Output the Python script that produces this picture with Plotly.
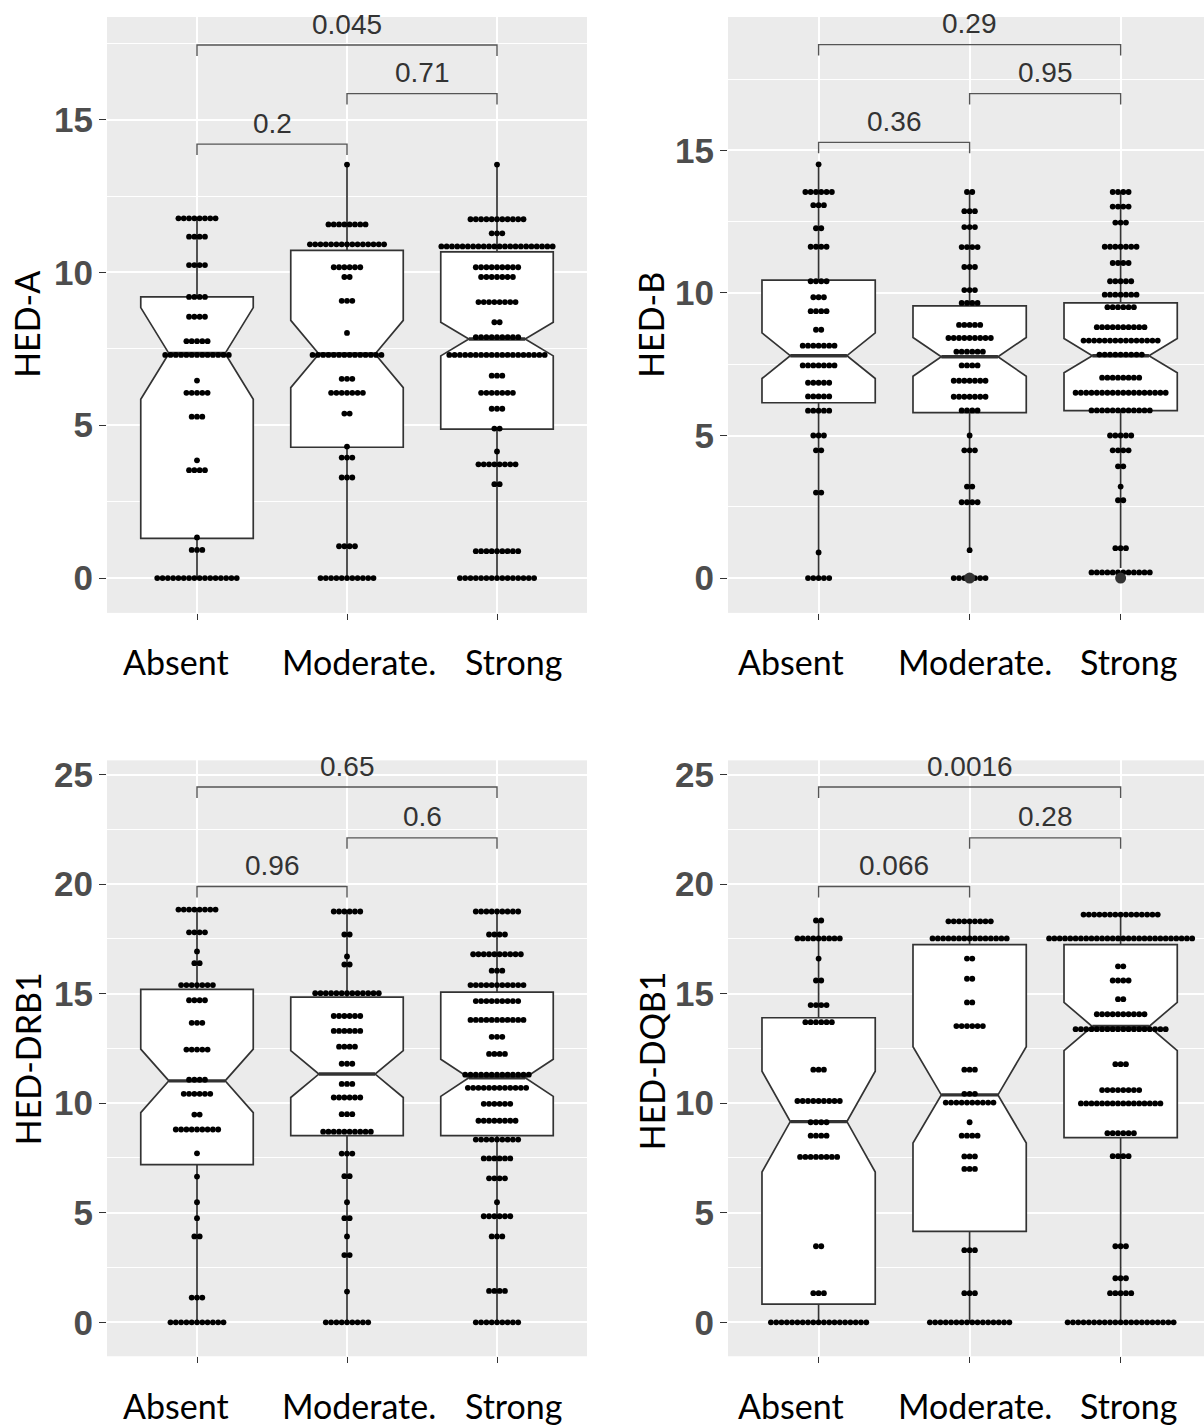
import plotly.graph_objects as go

# ---------------- data ----------------
categories = ["Absent", "Moderate.", "Strong"]

# HED-A dot levels / counts
a_absent_vals = [11.77, 11.17, 10.24, 9.2, 8.55, 7.75, 7.3, 6.46, 6.06, 5.28, 3.85, 3.53, 1.33, 0.92, 0]
a_absent_cnt = [8, 4, 4, 4, 4, 5, 13, 1, 5, 3, 1, 4, 1, 3, 16]
a_moderate_vals = [13.53, 11.57, 10.92, 10.17, 9.85, 9.07, 8.02, 7.3, 6.52, 6.06, 5.38, 4.3, 3.94, 3.29, 1.04, 0]
a_moderate_cnt = [1, 8, 15, 6, 2, 3, 1, 14, 3, 7, 2, 1, 3, 3, 4, 11]
a_strong_vals = [13.53, 11.74, 11.28, 10.85, 10.17, 9.85, 9.03, 8.37, 7.88, 7.3, 6.62, 6.06, 5.54, 4.89, 4.14, 3.72, 3.07, 0.88, 0]
a_strong_cnt = [1, 11, 3, 22, 9, 7, 8, 2, 9, 19, 3, 7, 3, 2, 1, 8, 2, 9, 15]

# HED-B
b_absent_vals = [14.51, 13.54, 13.08, 12.27, 11.62, 10.41, 9.85, 9.36, 8.71, 8.15, 7.46, 6.85, 6.37, 5.87, 5.0, 4.48, 3.0, 0.9, 0]
b_absent_cnt = [1, 6, 3, 2, 4, 4, 3, 4, 2, 7, 7, 5, 5, 5, 3, 2, 2, 1, 5]
b_moderate_vals = [13.54, 12.87, 12.31, 11.61, 10.91, 10.1, 9.65, 8.88, 8.42, 7.94, 7.46, 6.92, 6.36, 5.88, 5.0, 4.48, 3.21, 2.66, 0.98, 0]
b_moderate_cnt = [2, 3, 3, 4, 3, 3, 4, 5, 9, 6, 4, 7, 7, 4, 1, 3, 2, 4, 1, 7]
b_strong_vals = [13.54, 13.03, 12.47, 11.62, 11.05, 10.41, 9.94, 9.5, 8.8, 8.33, 7.84, 7.03, 6.5, 5.88, 5.0, 4.48, 3.92, 3.21, 2.73, 1.05, 0.2]
b_strong_cnt = [4, 4, 3, 7, 4, 5, 7, 6, 10, 15, 9, 8, 18, 12, 5, 4, 2, 1, 2, 3, 12]

# HED-DRB1
c_absent_vals = [18.84, 17.8, 16.93, 16.39, 15.39, 14.7, 13.67, 12.45, 11.07, 10.43, 9.48, 8.8, 7.71, 6.65, 5.48, 4.75, 3.92, 1.13, 0]
c_absent_cnt = [8, 4, 1, 2, 7, 4, 3, 5, 4, 6, 2, 9, 1, 1, 1, 1, 2, 3, 11]
c_moderate_vals = [18.75, 17.7, 16.7, 16.33, 15.02, 13.98, 13.3, 12.58, 11.8, 10.88, 10.26, 9.5, 8.7, 7.7, 6.67, 5.48, 4.75, 3.92, 3.07, 1.4, 0]
c_moderate_cnt = [6, 2, 1, 2, 13, 6, 6, 4, 3, 3, 6, 3, 10, 3, 2, 1, 2, 1, 2, 1, 9]
c_strong_vals = [18.75, 17.7, 16.8, 16.05, 15.39, 14.66, 13.8, 13.03, 12.25, 11.3, 10.7, 9.97, 9.2, 8.34, 7.48, 6.57, 5.48, 4.84, 3.92, 1.43, 0]
c_strong_cnt = [9, 4, 10, 3, 11, 9, 11, 3, 4, 13, 12, 6, 8, 9, 6, 4, 1, 6, 3, 4, 9]

# HED-DQB1
d_absent_vals = [18.34, 17.52, 16.6, 15.6, 14.48, 13.7, 11.53, 10.1, 9.13, 8.52, 7.55, 3.47, 1.33, 0]
d_absent_cnt = [2, 9, 1, 2, 4, 6, 3, 9, 4, 4, 8, 2, 3, 19]
d_moderate_vals = [18.3, 17.52, 16.6, 15.68, 14.6, 13.52, 11.53, 10.43, 10.03, 9.13, 8.52, 7.57, 7.0, 3.29, 1.33, 0]
d_moderate_cnt = [9, 15, 2, 2, 2, 6, 3, 3, 10, 1, 4, 3, 3, 3, 3, 16]
d_strong_vals = [18.61, 17.52, 16.25, 15.6, 14.75, 14.06, 13.38, 11.78, 10.6, 9.99, 8.63, 7.58, 3.47, 2.01, 1.33, 0]
d_strong_cnt = [15, 28, 2, 4, 2, 10, 18, 3, 8, 16, 6, 4, 3, 3, 5, 21]

# box statistics (Absent, Moderate., Strong)
a_q1 = [1.3, 4.28, 4.87]; a_med = [7.35, 7.33, 7.82]; a_q3 = [9.2, 10.72, 10.67]
a_lo = [0, 0, 0]; a_hi = [11.77, 13.53, 13.53]; a_notch = [1.5, 1.1, 0.55]
b_q1 = [6.15, 5.8, 5.87]; b_med = [7.8, 7.76, 7.8]; b_q3 = [10.45, 9.55, 9.65]
b_lo = [0, 0.98, 0.35]; b_hi = [14.51, 13.54, 13.54]; b_notch = [0.8, 0.68, 0.6]
c_q1 = [7.2, 8.52, 8.52]; c_med = [11.02, 11.33, 11.16]; c_q3 = [15.2, 14.84, 15.07]
c_lo = [0, 0, 0]; c_hi = [18.84, 18.75, 18.75]; c_notch = [1.45, 1.07, 0.85]
d_q1 = [0.83, 4.15, 8.43]; d_med = [9.16, 10.38, 13.5]; d_q3 = [13.9, 17.24, 17.24]
d_lo = [0, 0, 0]; d_hi = [18.34, 18.3, 18.61]; d_notch = [2.3, 2.2, 1.1]

# outliers (group index, value)
b_outlier_groups = [1, 2]
b_outlier_vals = [0, 0]

# p-values: (Absent vs Moderate., Moderate. vs Strong, Absent vs Strong)
a_pvals = ["0.2", "0.71", "0.045"]
b_pvals = ["0.36", "0.95", "0.29"]
c_pvals = ["0.96", "0.6", "0.65"]
d_pvals = ["0.066", "0.28", "0.0016"]

y_titles = ["HED-A", "HED-B", "HED-DRB1", "HED-DQB1"]
a_ticks = [0, 5, 10, 15]
c_ticks = [0, 5, 10, 15, 20, 25]

# ---------------- layout config ----------------
W, H = 1204, 1426
panels = [
    dict(title=y_titles[0], xd=(107, 587), yd=(12, 610), xr=(-0.6, 2.6), yr=(-1.14, 18.36),
         ticks=a_ticks, groups=[(a_absent_vals, a_absent_cnt), (a_moderate_vals, a_moderate_cnt), (a_strong_vals, a_strong_cnt)],
         box=(a_q1, a_med, a_q3, a_lo, a_hi, a_notch), pv=a_pvals, br=[14.2, 15.85, 17.44],
         outg=[], outv=[], tx=27, ty=321, lab_y=659, lab_dx=[-0.137, 1.083, 2.113]),
    dict(title=y_titles[1], xd=(728, 1204), yd=(12, 610), xr=(-0.6, 2.552), yr=(-1.22, 19.68),
         ticks=a_ticks, groups=[(b_absent_vals, b_absent_cnt), (b_moderate_vals, b_moderate_cnt), (b_strong_vals, b_strong_cnt)],
         box=(b_q1, b_med, b_q3, b_lo, b_hi, b_notch), pv=b_pvals, br=[15.28, 16.99, 18.71],
         outg=b_outlier_groups, outv=b_outlier_vals, tx=651, ty=321, lab_y=659, lab_dx=[-0.185, 1.033, 2.05]),
    dict(title=y_titles[2], xd=(107, 587), yd=(758, 1356), xr=(-0.6, 2.6), yr=(-1.55, 25.65),
         ticks=c_ticks, groups=[(c_absent_vals, c_absent_cnt), (c_moderate_vals, c_moderate_cnt), (c_strong_vals, c_strong_cnt)],
         box=(c_q1, c_med, c_q3, c_lo, c_hi, c_notch), pv=c_pvals, br=[19.89, 22.11, 24.43],
         outg=[], outv=[], tx=27, ty=1058, lab_y=1405, lab_dx=[-0.137, 1.083, 2.113]),
    dict(title=y_titles[3], xd=(728, 1204), yd=(758, 1356), xr=(-0.6, 2.552), yr=(-1.55, 25.65),
         ticks=c_ticks, groups=[(d_absent_vals, d_absent_cnt), (d_moderate_vals, d_moderate_cnt), (d_strong_vals, d_strong_cnt)],
         box=(d_q1, d_med, d_q3, d_lo, d_hi, d_notch), pv=d_pvals, br=[19.89, 22.11, 24.43],
         outg=[], outv=[], tx=651, ty=1060, lab_y=1405, lab_dx=[-0.185, 1.033, 2.05]),
]

DOT_PX = 5.3
LEG_PX = 11
BOX_W = 0.75
LINE_C = "#333333"

fig = go.Figure()
annotations = []
layout_axes = {}

for k, p in enumerate(panels):
    n = "" if k == 0 else str(k + 1)
    xa, ya = "x" + n, "y" + n
    px_per_x = (p["xd"][1] - p["xd"][0]) / (p["xr"][1] - p["xr"][0])
    px_per_y = (p["yd"][1] - p["yd"][0]) / (p["yr"][1] - p["yr"][0])
    pos = list(range(len(categories)))
    q1, med, q3, lo, hi, notch = p["box"]

    fig.add_trace(go.Box(
        x=pos, q1=q1, median=med, q3=q3, lowerfence=lo, upperfence=hi, notchspan=notch,
        notched=True, notchwidth=0.25, width=BOX_W, whiskerwidth=0, boxpoints=False,
        fillcolor="white", line=dict(color=LINE_C, width=1.7),
        xaxis=xa, yaxis=ya, showlegend=False, hoverinfo="skip"))

    # thick median lines
    mx, my = [], []
    for i in pos:
        mx += [i - BOX_W / 4, i + BOX_W / 4, None]
        my += [med[i], med[i], None]
    fig.add_trace(go.Scatter(x=mx, y=my, mode="lines", line=dict(color=LINE_C, width=3.4),
                             xaxis=xa, yaxis=ya, showlegend=False, hoverinfo="skip"))

    # dot plot
    sp = DOT_PX / px_per_x
    dx, dy = [], []
    for i, (vals, cnts) in enumerate(p["groups"]):
        for v, c in zip(vals, cnts):
            for j in range(c):
                dx.append(i + (j - (c - 1) / 2) * sp)
                dy.append(v)
    fig.add_trace(go.Scatter(x=dx, y=dy, mode="markers",
                             marker=dict(color="black", size=5.8, line=dict(width=0)),
                             xaxis=xa, yaxis=ya, showlegend=False, hoverinfo="skip"))

    # outliers
    if p["outg"]:
        fig.add_trace(go.Scatter(x=p["outg"], y=p["outv"], mode="markers",
                                 marker=dict(color="#333333", size=11, line=dict(width=0)),
                                 xaxis=xa, yaxis=ya, showlegend=False, hoverinfo="skip"))

    # brackets
    pairs = [(0, 1), (1, 2), (0, 2)]
    leg = LEG_PX / px_per_y
    bx, by = [], []
    for (a, b), h, lab in zip(pairs, p["br"], p["pv"]):
        bx += [a, a, b, b, None]
        by += [h - leg, h, h, h - leg, None]
        annotations.append(dict(x=(a + b) / 2, y=h, xref=xa, yref=ya, text=lab, showarrow=False,
                                yanchor="middle", yshift=21,
                                font=dict(family="Liberation Sans, Arial", size=28, color="#333333")))
    fig.add_trace(go.Scatter(x=bx, y=by, mode="lines", line=dict(color="#555555", width=1.4),
                             xaxis=xa, yaxis=ya, showlegend=False, hoverinfo="skip"))

    # category labels
    for i, lab in enumerate(categories):
        annotations.append(dict(x=p["lab_dx"][i], y=1 - p["lab_y"] / H, xref=xa, yref="paper",
                                text=lab, showarrow=False, yanchor="middle",
                                font=dict(family="Lato", size=34, color="black")))
    # y title
    annotations.append(dict(x=p["tx"] / W, y=1 - p["ty"] / H, xref="paper", yref="paper",
                            text=p["title"], textangle=-90, showarrow=False,
                            xanchor="center", yanchor="middle",
                            font=dict(family="Lato", size=34, color="black")))

    ticks = p["ticks"]
    step = ticks[1] - ticks[0]
    minor = [t + step / 2 for t in ticks]
    layout_axes["xaxis" + n] = dict(
        domain=[p["xd"][0] / W, p["xd"][1] / W], range=list(p["xr"]), anchor=ya,
        tickvals=pos, ticktext=["" for _ in pos], showgrid=True, gridcolor="white", gridwidth=1.6,
        zeroline=False, showline=False, ticks="outside", ticklen=6, tickwidth=1.4, tickcolor=LINE_C,
        fixedrange=True)
    layout_axes["yaxis" + n] = dict(
        domain=[1 - p["yd"][1] / H, 1 - p["yd"][0] / H], range=list(p["yr"]), anchor=xa,
        tickvals=ticks, ticktext=[str(t) for t in ticks], showgrid=True, gridcolor="white", gridwidth=1.6,
        minor=dict(tickvals=minor, showgrid=True, gridcolor="white", gridwidth=0.8, ticks=""),
        zeroline=False, showline=False, ticks="outside", ticklen=7, tickwidth=1.4, tickcolor=LINE_C,
        ticklabelstandoff=-1,
        tickfont=dict(family="Liberation Sans, Arial", size=35, color="#4D4D4D", weight="bold"),
        fixedrange=True)

fig.update_layout(
    width=W, height=H, margin=dict(l=0, r=0, t=0, b=0),
    paper_bgcolor="white", plot_bgcolor="#EBEBEB",
    showlegend=False, annotations=annotations, **layout_axes)

post = ("document.body.style.margin='0';document.body.style.padding='0';"
        "document.body.style.overflow='hidden';"
        "var gd=document.getElementById('{plot_id}');"
        "gd.style.position='absolute';gd.style.left='0px';gd.style.top='0px';")

fig.write_html("out.html", post_script=post, config={"displayModeBar": False})
